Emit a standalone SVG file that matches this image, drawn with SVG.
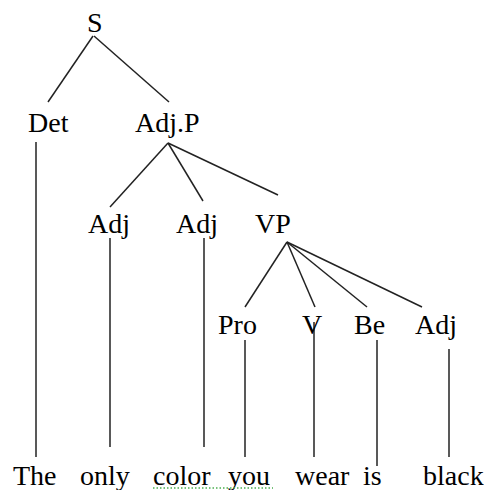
<svg xmlns="http://www.w3.org/2000/svg" width="484" height="490" viewBox="0 0 484 490">
<style>
text { font-family: "Liberation Serif", "Times New Roman", serif; font-size: 28px; fill: #000; }
.c line { stroke: #222; stroke-width: 1.5; stroke-linecap: butt; }
.spell { stroke: #4caf50; stroke-width: 1.3; stroke-dasharray: 1.5 2; fill: none; }
</style>
<rect width="484" height="490" fill="#fff"/>
<g class="c" id="connectors">
<line x1="93" y1="36" x2="48" y2="102"/>
<line x1="94" y1="36" x2="169" y2="102"/>
<line x1="168" y1="143" x2="110" y2="207"/>
<line x1="168" y1="143" x2="203" y2="201"/>
<line x1="168" y1="143" x2="278" y2="195"/>
<line x1="36" y1="142" x2="36" y2="457"/>
<line x1="110" y1="238" x2="110" y2="447"/>
<line x1="204" y1="238" x2="204" y2="447"/>
<line x1="287" y1="242" x2="245" y2="307"/>
<line x1="287" y1="242" x2="315" y2="307"/>
<line x1="287" y1="242" x2="367" y2="307"/>
<line x1="287" y1="242" x2="422" y2="307"/>
<line x1="245" y1="340" x2="245" y2="457"/>
<line x1="314" y1="322" x2="314" y2="457"/>
<line x1="377" y1="340" x2="377" y2="466"/>
<line x1="449" y1="349" x2="449" y2="457"/>
</g>
<g id="S"><text x="87" y="32">S</text></g>
<g id="Det"><text x="28" y="132">Det</text></g>
<g id="AdjP"><text x="135" y="132">Adj.P</text></g>
<g id="Adj1"><text x="88" y="233">Adj</text></g>
<g id="Adj2"><text x="176" y="233">Adj</text></g>
<g id="VP"><text x="255" y="233">VP</text></g>
<g id="Pro"><text x="218" y="334">Pro</text></g>
<g id="V"><text x="302" y="334">V</text></g>
<g id="Be"><text x="354" y="334">Be</text></g>
<g id="Adj3"><text x="415" y="334">Adj</text></g>
<g id="w-The"><text x="13" y="485">The</text></g>
<g id="w-only"><text x="80" y="485">only</text></g>
<g id="w-color"><text x="153" y="485">color</text></g>
<g id="w-you"><text x="228" y="485">you</text></g>
<g id="w-wear"><text x="295" y="485">wear</text></g>
<g id="w-is"><text x="363" y="485">is</text></g>
<g id="w-black"><text x="423" y="485">black</text></g>
<line class="spell" x1="153" y1="488" x2="273" y2="488"/>
</svg>
